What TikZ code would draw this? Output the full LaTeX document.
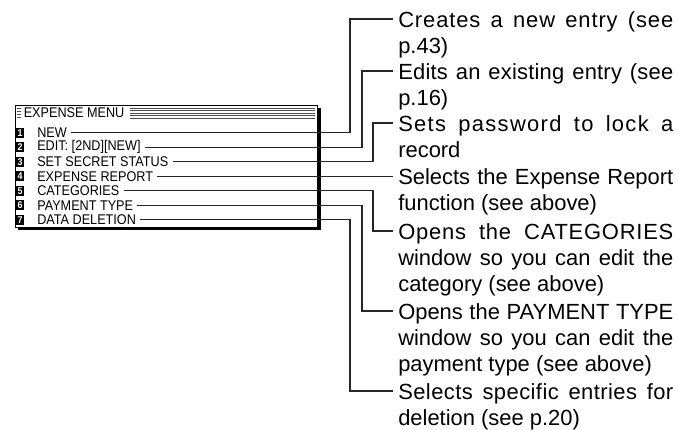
\documentclass[tikz,border=0pt]{standalone}
\usepackage{fontspec}
\setmainfont{Liberation Sans}
\newfontfamily\lcdfont[FakeStretch=0.9]{Liberation Sans}
\usetikzlibrary{positioning,calc}
\hbadness=10000
\newcommand\spreadline[2]{{\addfontfeature{LetterSpace=#1}#2}}

\begin{document}
\begin{tikzpicture}[
    x=0.25mm, y=-0.25mm,
    keybox/.style={fill=black, text=white, minimum width=2mm, minimum height=2.5mm,
                   inner sep=0pt, font=\lcdfont\fontsize{7}{7}\selectfont\bfseries},
    item/.style={anchor=west, inner xsep=1mm, inner ysep=0pt,
                 font=\lcdfont\fontsize{10}{11}\selectfont},
    desc/.style={anchor=base west, inner xsep=1.25mm, inner ysep=0pt,
                 text width=68.75mm, align=justify,
                 font=\fontsize{15.6}{18.78}\selectfont},
    lead/.style={black!85, line width=0.3mm},
    stripe/.style={black!70, line width=0.22mm},
  ]
  \useasboundingbox (0,0) rectangle (678,429);

  % ============================== Menu window ==============================
  \fill[black] (18,108) rectangle (320.5,230);
  \filldraw[fill=white, draw=black, line width=0.25mm] (15,105) rectangle (317,227);

  \foreach \dy in {108.5,111.5,114.5,117.5}
    \draw[stripe] (16.5,\dy) -- (20.5,\dy);
  \node[item, inner xsep=0pt] (ttl) at (23.5,113) {EXPENSE MENU};
  \coordinate (sx) at ($(ttl.east)+(5,0)$);
  \foreach \dy in {108,110.5,113,115.5,118}
    \draw[stripe] (sx |- 0,\dy) -- (315,\dy);

  \foreach \i/\lab in {1/NEW, 2/{EDIT: [2ND][NEW]}, 3/SET SECRET STATUS,
                       4/EXPENSE REPORT, 5/CATEGORIES, 6/PAYMENT TYPE,
                       7/DATA DELETION} {
    \node[keybox] (k\i) at (20,{118.2+14.5*\i}) {\i};
    \node[item] (m\i) at (33,{118.2+14.5*\i}) {\lab};
  }

  % ============================== Descriptions =============================
  \node[desc] (d1) at (393,27)  {\spreadline{4}{Creates a new entry (see}\linebreak p.43)};
  \node[desc] (d2) at (393,79)  {\spreadline{1}{Edits an existing entry (see}\linebreak p.16)};
  \node[desc] (d3) at (393,131) {\spreadline{6}{Sets password to lock a}\linebreak record};
  \node[desc] (d4) at (393,184) {Selects the Expense Report\linebreak function (see above)};
  \node[desc] (d5) at (393,239) {\spreadline{3.5}{Opens the CATEGORIES}\linebreak window so you can edit the\linebreak category (see above)};
  \node[desc] (d6) at (393,319) {Opens the PAYMENT TYPE\linebreak window so you can edit the\linebreak payment type (see above)};
  \node[desc] (d7) at (393,399) {\spreadline{2}{Selects specific entries for}\linebreak deletion (see p.20)};

  \foreach \i in {1,...,7}
    \coordinate (t\i) at ($(d\i.base west)+(0,-8)$);

  % ============================== Leaders ==================================
  \foreach \i/\dx in {1/-43, 2/-31, 3/-20, 5/-20, 6/-31, 7/-43}
    \draw[lead] (m\i.east) -| ($(t\i)+(\dx,0)$) -- (t\i);
  \draw[lead] (m4.east) -- (m4.east -| t4);
\end{tikzpicture}
\end{document}
